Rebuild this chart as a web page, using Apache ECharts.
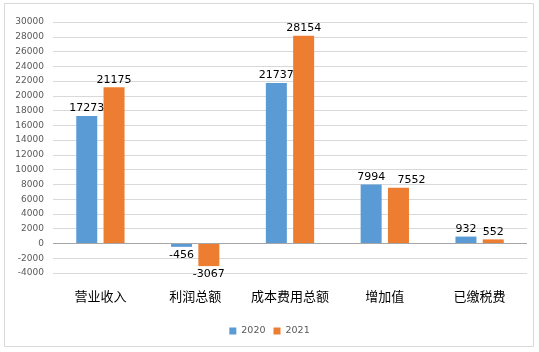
<!DOCTYPE html>
<html>
<head>
<meta charset="utf-8">
<script src="https://cdn.jsdelivr.net/npm/echarts@6/dist/echarts.min.js"></script>
<style>html,body{margin:0;padding:0;background:#fff}#c{width:539px;height:352px}</style>
</head>
<body>
<div id="c"></div>
<script>
var categories = ['营业收入', '利润总额', '成本费用总额', '增加值', '已缴税费'];
var values2020 = [17273, -456, 21737, 7994, 932];
var values2021 = [21175, -3067, 28154, 7552, 552];
var seriesNames = ['2020', '2021'];

function toData(arr, shiftIndex) {
  return arr.map(function (v, i) {
    var lbl = v < 0 ? { position: 'bottom', distance: 3 } : { position: 'top', distance: 2 };
    if (i === shiftIndex) { lbl.offset = [13, 0]; }
    return { value: v, label: lbl };
  });
}

var chart = echarts.init(document.getElementById('c'));
chart.setOption({
  animation: false,
  graphic: [{
    type: 'rect',
    shape: { x: 4.5, y: 3.5, width: 529, height: 343 },
    style: { fill: 'none', stroke: '#d9d9d9', lineWidth: 1 },
    silent: true
  }],
  grid: { left: 53, right: 12, top: 22, bottom: 79 },
  legend: {
    data: seriesNames,
    bottom: 11,
    left: 'center',
    itemWidth: 7,
    itemHeight: 7,
    itemGap: 8,
    icon: 'rect',
    textStyle: { color: '#595959', fontSize: 9.5, fontFamily: 'DejaVu Sans' }
  },
  xAxis: {
    type: 'category',
    data: categories,
    axisLine: { show: false, onZero: false },
    axisTick: { show: false },
    axisLabel: { color: '#000', fontSize: 13, margin: 17, interval: 0, fontFamily: 'Noto Sans CJK SC' }
  },
  yAxis: {
    type: 'value',
    min: -4000,
    max: 30000,
    interval: 2000,
    axisLine: { show: false },
    axisTick: { show: false },
    axisLabel: { color: '#595959', fontSize: 9, margin: 9, fontFamily: 'DejaVu Sans', formatter: function (v) { return String(v); } },
    splitLine: { lineStyle: { color: '#d9d9d9', width: 1 } }
  },
  series: [{
    name: seriesNames[0],
    type: 'bar',
    data: toData(values2020, -1),
    barWidth: 21,
    barGap: '30%',
    itemStyle: { color: '#5B9BD5' },
    label: { show: true, color: '#000', fontSize: 11, fontFamily: 'DejaVu Sans' },
    markLine: {
      silent: true,
      symbol: 'none',
      label: { show: false },
      lineStyle: { color: '#a6a6a6', type: 'solid', width: 1 },
      data: [{ yAxis: 0 }]
    }
  }, {
    name: seriesNames[1],
    type: 'bar',
    data: toData(values2021, 3),
    barWidth: 21,
    barGap: '30%',
    itemStyle: { color: '#ED7D31' },
    label: { show: true, color: '#000', fontSize: 11, fontFamily: 'DejaVu Sans' }
  }]
});
</script>
</body>
</html>
